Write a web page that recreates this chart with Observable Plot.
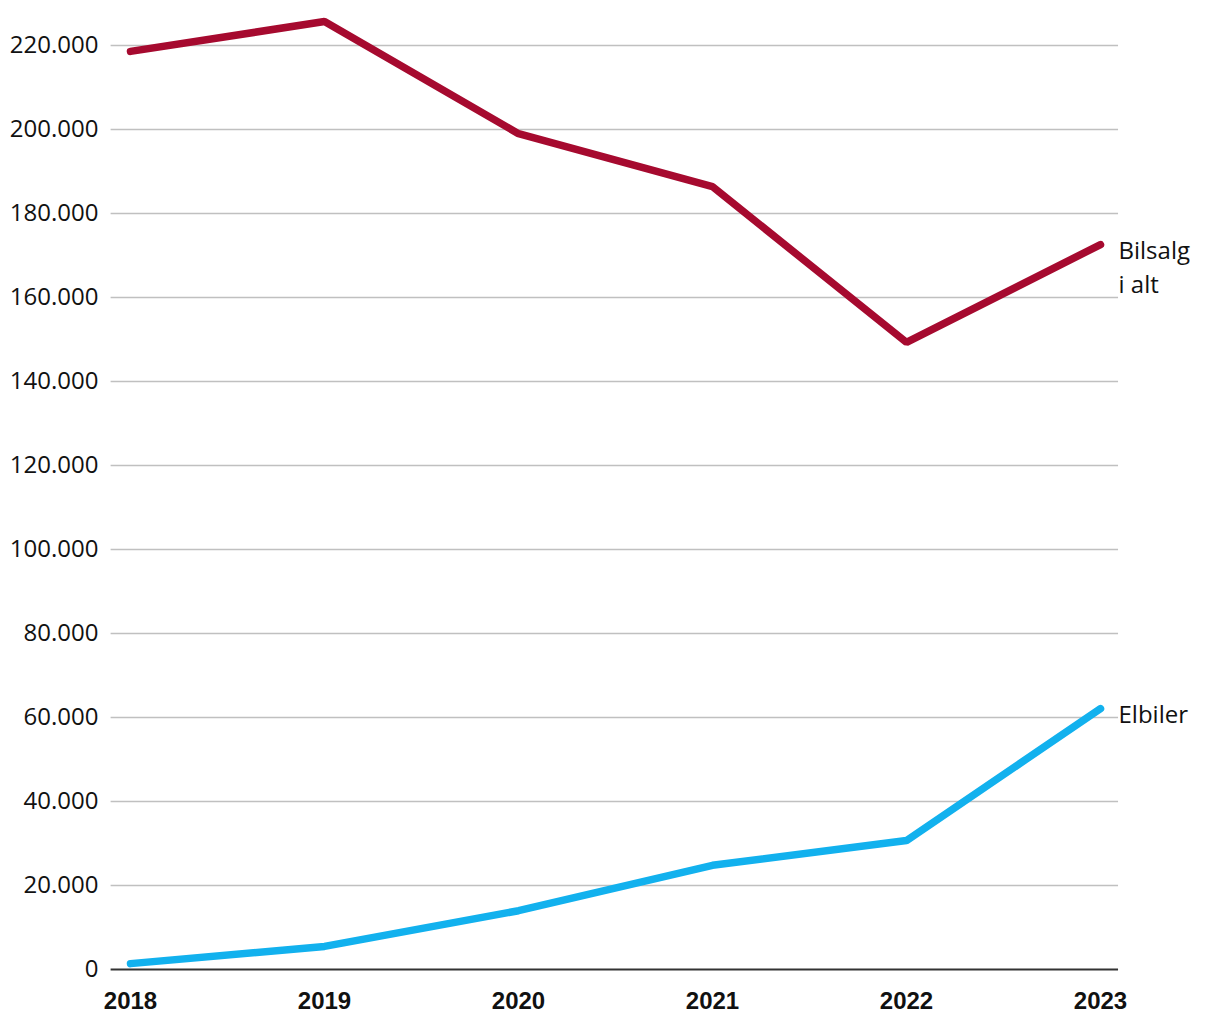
<!DOCTYPE html>
<html>
<head>
<meta charset="utf-8">
<script src="https://cdn.jsdelivr.net/npm/d3@7"></script>
<script src="https://cdn.jsdelivr.net/npm/@observablehq/plot@0.6"></script>
<style>
  html, body { margin: 0; padding: 0; background: #fff; }
  #chart svg { display: block; }
</style>
</head>
<body>
<div id="chart"></div>
<script>
const years = [2018, 2019, 2020, 2021, 2022, 2023];
const bilsalg = [218600, 225700, 199000, 186400, 149300, 172600];
const elbiler = [1400, 5500, 14000, 24800, 30700, 62100];
const yTicks = [0, 20000, 40000, 60000, 80000, 100000, 120000, 140000, 160000, 180000, 200000, 220000];
const seriesNames = ["Bilsalg\ni alt", "Elbiler"];
const colors = ["#a60a2f", "#12b1ee"];

const rows = [];
years.forEach((yr, i) => {
  rows.push({year: yr, value: bilsalg[i], series: seriesNames[0]});
  rows.push({year: yr, value: elbiler[i], series: seriesNames[1]});
});
const lastRows = rows.filter(d => d.year === years[years.length - 1]);

const fmt = d => d3.format(",")(d).replace(/,/g, ".");
const gx1 = 2017.9, gx2 = 2023.093;

const chart = Plot.plot({
  width: 1220,
  height: 1020,
  marginLeft: 130,
  marginRight: 120,
  marginTop: 45,
  marginBottom: 51,
  style: {fontFamily: "'Open Sans', sans-serif", fontSize: "24px", color: "#111", background: "#fff"},
  x: {domain: [2018, 2023]},
  y: {domain: [0, 220000]},
  color: {domain: seriesNames, range: colors},
  marks: [
    Plot.ruleY(yTicks.filter(d => d > 0), {x1: gx1, x2: gx2, stroke: "#c0c0c0", strokeWidth: 1.5}),
    Plot.ruleY([0], {x1: gx1, x2: gx2, stroke: "#333", strokeWidth: 2}),
    Plot.axisY({ticks: yTicks, tickFormat: fmt, tickSize: 0, tickPadding: 32, label: null, fontSize: 24}),
    Plot.axisX({ticks: years, tickFormat: d => String(d), tickSize: 0, tickPadding: 22, label: null,
      fontFamily: "'Liberation Sans', Arial, sans-serif", fontWeight: "bold", fontSize: 24}),
    Plot.line(rows, {x: "year", y: "value", z: "series", stroke: "series", strokeWidth: 7.5,
      strokeLinecap: "round", strokeLinejoin: "miter"}),
    Plot.text(lastRows, {x: "year", y: "value", text: "series", dx: 18, dy: -10, textAnchor: "start",
      lineAnchor: "top", lineHeight: 1.42, fontSize: 24, fill: "#111"})
  ]
});
document.getElementById("chart").appendChild(chart);
</script>
</body>
</html>
